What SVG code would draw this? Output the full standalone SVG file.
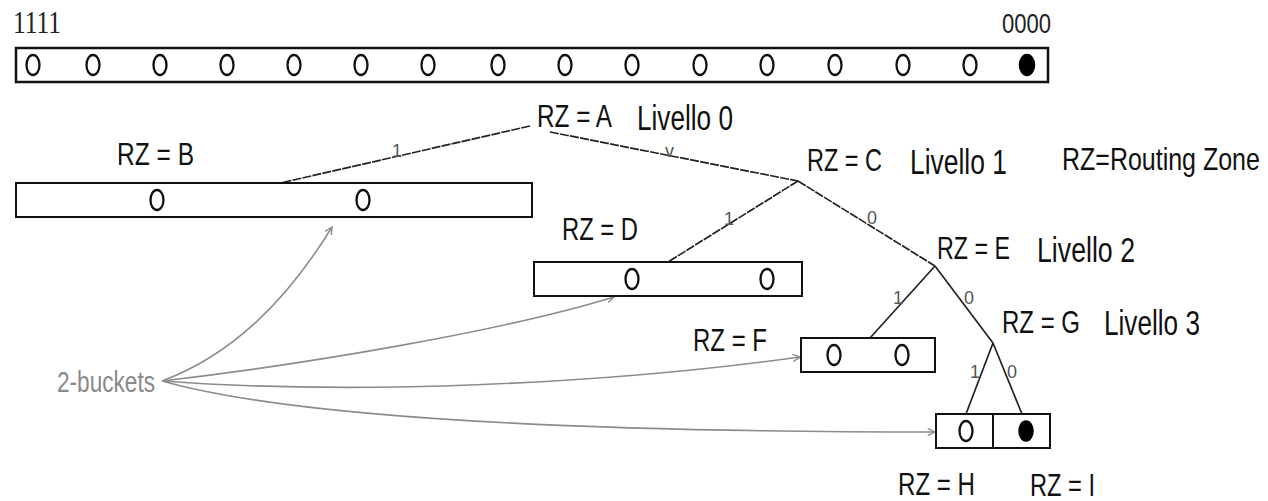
<svg xmlns="http://www.w3.org/2000/svg" width="1268" height="501" viewBox="0 0 1268 501">
  <style>
    .box { fill: #ffffff; stroke: #111111; stroke-width: 2; }
    .bar { fill: #ffffff; stroke: #111111; stroke-width: 2.5; }
    .slot { fill: none; stroke: #111111; stroke-width: 2.3; }
    .full { fill: #000000; stroke: #000000; stroke-width: 1.5; }
    .lbl { font-family: "Liberation Sans", Arial, sans-serif; font-size: 32px; fill: #111111; }
    .lvl { font-family: "Liberation Sans", Arial, sans-serif; font-size: 35px; fill: #111111; }
    .edge { stroke: #222222; stroke-width: 1.7; fill: none; }
    .edge.tex { stroke-dasharray: 9 1.2; }
    .bit { font-family: "Liberation Sans", Arial, sans-serif; font-size: 18px; fill: #555555; }
    .ptr { stroke: #8c8c8c; stroke-width: 1.6; fill: none; marker-end: url(#tip); }
    .note { font-family: "Liberation Sans", Arial, sans-serif; font-size: 30px; fill: #8a8a8a; }
  </style>
  <defs>
    <marker id="tip" viewBox="0 0 10 10" refX="9" refY="5" markerWidth="9" markerHeight="9" markerUnits="userSpaceOnUse" orient="auto">
      <path d="M1,1 L9,5 L1,9" fill="none" stroke="#8c8c8c" stroke-width="1.6"/>
    </marker>
  </defs>
  <rect width="1268" height="501" fill="#ffffff"/>

  <!-- identifier space -->
  <g id="space">
    <text x="13" y="33" font-family="Liberation Serif, serif" font-size="31" fill="#222" textLength="48" lengthAdjust="spacingAndGlyphs">1111</text>
    <text x="1002" y="33" font-family="Liberation Sans, sans-serif" font-size="28" fill="#222" textLength="49" lengthAdjust="spacingAndGlyphs">0000</text>
    <rect class="bar" x="16" y="48" width="1032" height="34"/>
    <ellipse class="slot" cx="33" cy="65" rx="6.5" ry="10"/>
    <ellipse class="slot" cx="93" cy="65" rx="6.5" ry="10"/>
    <ellipse class="slot" cx="160" cy="65" rx="6.5" ry="10"/>
    <ellipse class="slot" cx="227" cy="65" rx="6.5" ry="10"/>
    <ellipse class="slot" cx="294" cy="65" rx="6.5" ry="10"/>
    <ellipse class="slot" cx="361" cy="65" rx="6.5" ry="10"/>
    <ellipse class="slot" cx="428" cy="65" rx="6.5" ry="10"/>
    <ellipse class="slot" cx="498" cy="65" rx="6.5" ry="10"/>
    <ellipse class="slot" cx="565" cy="65" rx="6.5" ry="10"/>
    <ellipse class="slot" cx="632" cy="65" rx="6.5" ry="10"/>
    <ellipse class="slot" cx="700" cy="65" rx="6.5" ry="10"/>
    <ellipse class="slot" cx="767" cy="65" rx="6.5" ry="10"/>
    <ellipse class="slot" cx="835" cy="65" rx="6.5" ry="10"/>
    <ellipse class="slot" cx="903" cy="65" rx="6.5" ry="10"/>
    <ellipse class="slot" cx="970" cy="65" rx="6.5" ry="10"/>
    <ellipse class="full" cx="1027" cy="65" rx="7.5" ry="10.5"/>
  </g>

  <!-- tree edges and bit labels -->
  <g id="connectors">
    <line class="edge tex" x1="530" y1="126" x2="276" y2="184"/>
    <line class="edge tex" x1="550" y1="132" x2="798" y2="181"/>
    <line class="edge tex" x1="798" y1="181" x2="668" y2="262"/>
    <line class="edge tex" x1="798" y1="181" x2="935" y2="266"/>
    <line class="edge" x1="935" y1="266" x2="870" y2="338"/>
    <line class="edge" x1="935" y1="266" x2="993" y2="343"/>
    <line class="edge" x1="993" y1="343" x2="966" y2="414"/>
    <line class="edge" x1="993" y1="343" x2="1022" y2="414"/>
    <text class="bit" x="392" y="157">1</text>
    <text class="bit" x="665" y="157">v</text>
    <text class="bit" x="724" y="225">1</text>
    <text class="bit" x="867" y="224">0</text>
    <text class="bit" x="893" y="304">1</text>
    <text class="bit" x="964" y="304">0</text>
    <text class="bit" x="970" y="378">1</text>
    <text class="bit" x="1007" y="378">0</text>

    <path class="ptr" d="M162,381 Q260,345 332,227"/>
    <path class="ptr" d="M162,381 C300,365 500,332 614,297"/>
    <path class="ptr" d="M162,381 C350,395 600,385 800,357"/>
    <path class="ptr" d="M162,381 C300,420 600,432 935,432"/>
  </g>

  <g id="zone-a">
    <text class="lbl" x="537" y="127" textLength="75" lengthAdjust="spacingAndGlyphs">RZ = A</text>
    <text class="lvl" x="637" y="130" textLength="96" lengthAdjust="spacingAndGlyphs">Livello 0</text>
  </g>

  <g id="zone-b">
    <text class="lbl" x="117" y="165" textLength="77" lengthAdjust="spacingAndGlyphs">RZ = B</text>
    <rect class="box" x="16" y="183" width="516" height="34"/>
    <ellipse class="slot" cx="157" cy="200" rx="6.5" ry="10"/>
    <ellipse class="slot" cx="363" cy="200" rx="6.5" ry="10"/>
  </g>

  <g id="zone-c">
    <text class="lbl" x="807" y="171" textLength="75" lengthAdjust="spacingAndGlyphs">RZ = C</text>
    <text class="lvl" x="910" y="174" textLength="97" lengthAdjust="spacingAndGlyphs">Livello 1</text>
  </g>

  <!-- legend, narrowed horizontally to a condensed face -->
  <g id="legend" transform="translate(1062,170) scale(0.781,1)">
    <text class="lbl" x="0" y="0">RZ=Routing Zone</text>
  </g>

  <g id="zone-d">
    <text class="lbl" x="562" y="240" textLength="76" lengthAdjust="spacingAndGlyphs">RZ = D</text>
    <rect class="box" x="534" y="262" width="268" height="34"/>
    <ellipse class="slot" cx="632" cy="279" rx="6.5" ry="10"/>
    <ellipse class="slot" cx="767" cy="279" rx="6.5" ry="10"/>
  </g>

  <g id="zone-e">
    <text class="lbl" x="937" y="259" textLength="73" lengthAdjust="spacingAndGlyphs">RZ = E</text>
    <text class="lvl" x="1037" y="262" textLength="98" lengthAdjust="spacingAndGlyphs">Livello 2</text>
  </g>

  <g id="zone-f">
    <text class="lbl" x="693" y="351" textLength="74" lengthAdjust="spacingAndGlyphs">RZ = F</text>
    <rect class="box" x="801" y="338" width="134" height="34"/>
    <ellipse class="slot" cx="834" cy="355" rx="6.5" ry="10"/>
    <ellipse class="slot" cx="902" cy="355" rx="6.5" ry="10"/>
  </g>

  <g id="zone-g">
    <text class="lbl" x="1002" y="333" textLength="78" lengthAdjust="spacingAndGlyphs">RZ = G</text>
    <text class="lvl" x="1104" y="335" textLength="96" lengthAdjust="spacingAndGlyphs">Livello 3</text>
  </g>

  <g id="zone-h">
    <rect class="box" x="936" y="414" width="57" height="34"/>
    <ellipse class="slot" cx="966" cy="431" rx="6.5" ry="10"/>
    <text class="lbl" x="898" y="495" textLength="77" lengthAdjust="spacingAndGlyphs">RZ = H</text>
  </g>

  <g id="zone-i">
    <rect class="box" x="993" y="414" width="57" height="34"/>
    <ellipse class="full" cx="1026" cy="431" rx="7" ry="10"/>
    <text class="lbl" x="1030" y="496" textLength="65" lengthAdjust="spacingAndGlyphs">RZ = I</text>
  </g>

  <g id="buckets-note">
    <text class="note" x="57" y="392" textLength="98" lengthAdjust="spacingAndGlyphs">2-buckets</text>
  </g>
</svg>
